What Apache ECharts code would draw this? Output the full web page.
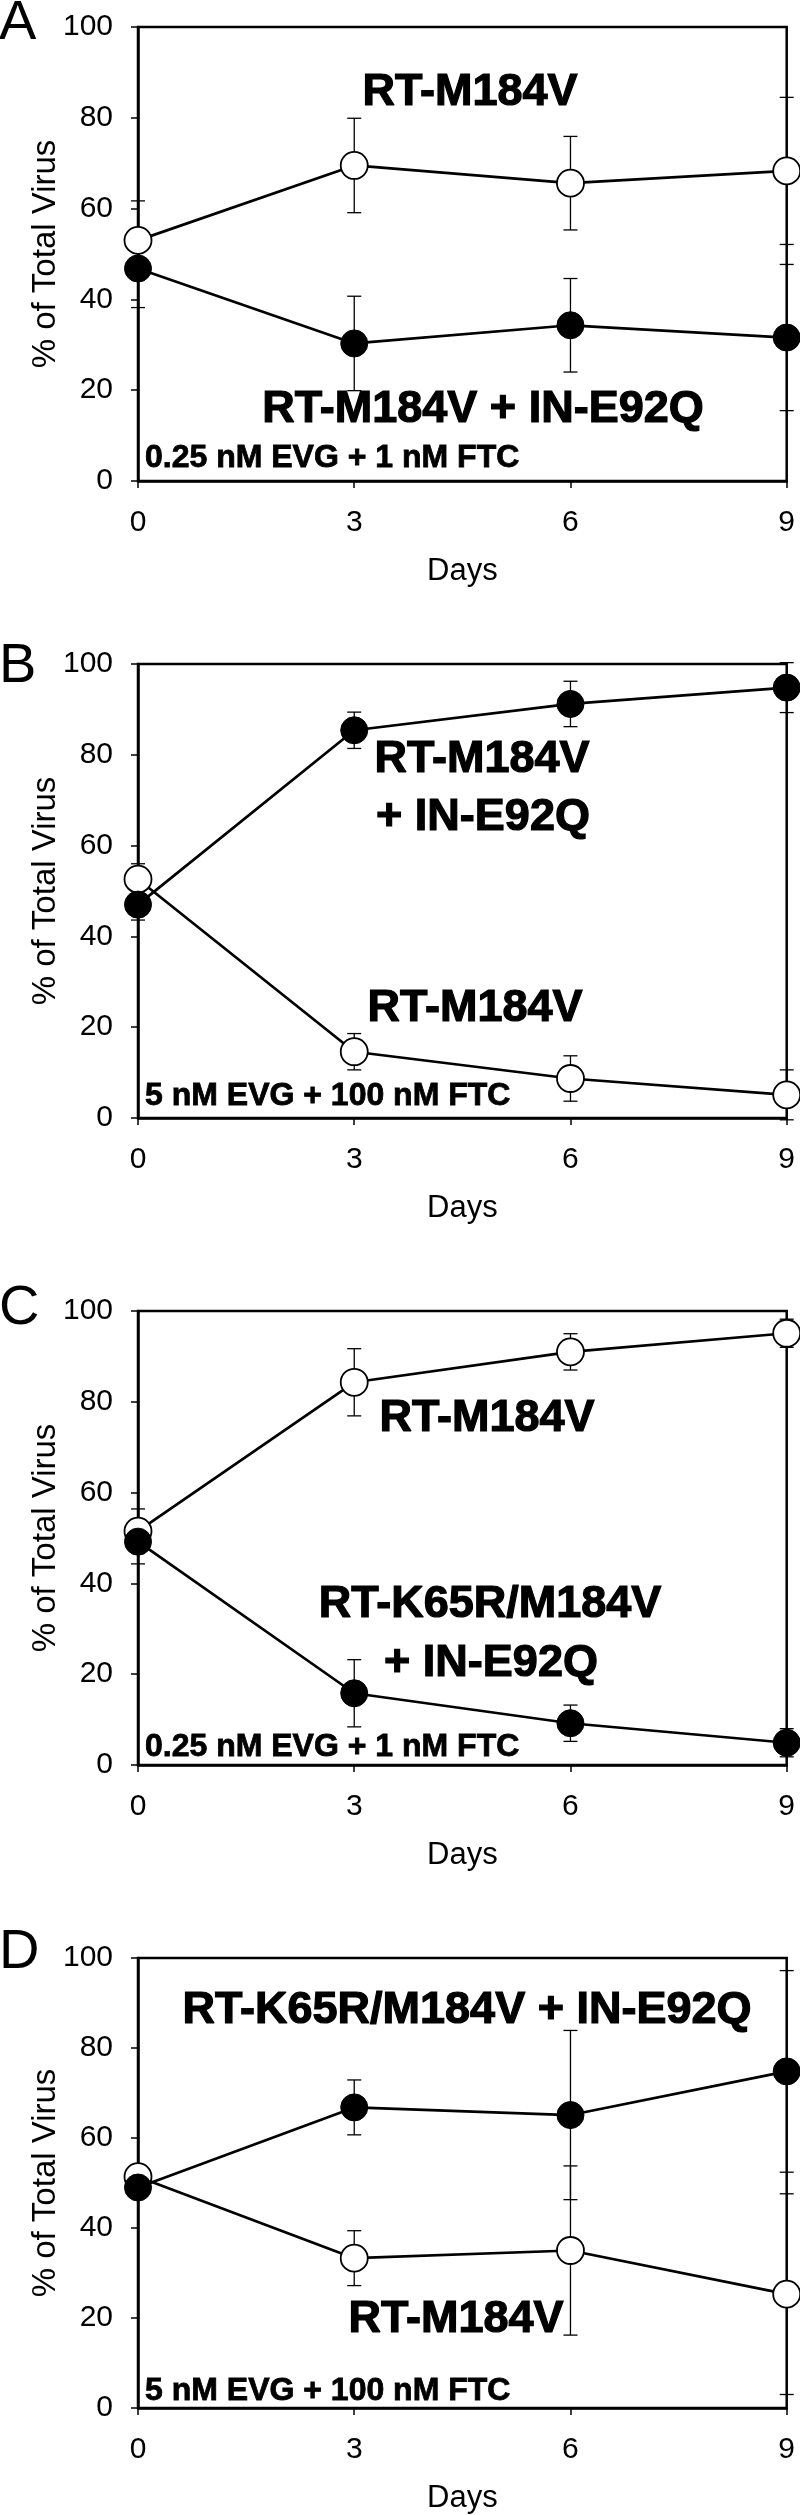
<!DOCTYPE html>
<html><head><meta charset="utf-8">
<script src="https://cdn.jsdelivr.net/npm/echarts@6/dist/echarts.min.js"></script>
<style>html,body{margin:0;padding:0;background:#fff}#c{width:800px;height:2515px}</style>
</head><body><div id="c"></div>
<script>
// ---- data ----
const days = [0, 3, 6, 9];
const yTickValues = [0, 20, 40, 60, 80, 100];
const panelLetters = ['A', 'B', 'C', 'D'];

const aOpen = [53.0, 69.5, 65.6, 68.3];
const aOpenErr = [8.7, 10.4, 10.3, 16.2];
const aFilled = [46.8, 30.3, 34.3, 31.6];
const aFilledErr = [8.6, 10.4, 10.3, 16.1];

const bOpen = [52.6, 14.6, 8.7, 5.1];
const bOpenErr = [3.4, 4.0, 5.0, 5.5];
const bFilled = [47.0, 85.4, 91.2, 94.8];
const bFilledErr = [3.4, 4.0, 5.0, 5.5];

const cOpen = [51.5, 84.3, 91.0, 95.1];
const cOpenErr = [4.9, 7.4, 4.0, 3.1];
const cFilled = [49.2, 15.8, 9.2, 4.9];
const cFilledErr = [4.9, 7.4, 4.0, 3.1];

const dOpen = [51.4, 33.3, 35.0, 25.3];
const dOpenErr = [1.5, 6.1, 18.8, 22.3];
const dFilled = [49.0, 66.8, 65.1, 74.8];
const dFilledErr = [1.5, 6.1, 18.8, 22.4];

const conditions = ['0.25 nM EVG + 1 nM FTC', '5 nM EVG + 100 nM FTC', '0.25 nM EVG + 1 nM FTC', '5 nM EVG + 100 nM FTC'];

const panels = [
  {open: aOpen, openErr: aOpenErr, filled: aFilled, filledErr: aFilledErr},
  {open: bOpen, openErr: bOpenErr, filled: bFilled, filledErr: bFilledErr},
  {open: cOpen, openErr: cOpenErr, filled: cFilled, filledErr: cFilledErr},
  {open: dOpen, openErr: dOpenErr, filled: dFilled, filledErr: dFilledErr}
];

// ---- layout ----
const gridTops = [27, 664, 1311, 1958];
const gridLeft = 138, gridW = 648.7, gridH = 454;
const FONT = '"Liberation Sans", Arial, Helvetica, sans-serif';

// annotation labels: [text, centerX, offsetY from grid top]
const labels = [
  [['RT-M184V', 470, 66], ['RT-M184V + IN-E92Q', 483, 383]],
  [['RT-M184V', 482, 96], ['+ IN-E92Q', 483, 154], ['RT-M184V', 475, 345]],
  [['RT-M184V', 487, 108], ['RT-K65R/M184V', 490, 294], ['+ IN-E92Q', 491, 353]],
  [['RT-K65R/M184V + IN-E92Q', 467, 53], ['RT-M184V', 456, 362]]
];
const letterOffsets = [-3, 2.5, -2, -5];
const condOffsets = [431, 432, 436, 433];

function errRender(params, api) {
  const x = api.value(0), y = api.value(1), e = api.value(2);
  if (!e) return;
  const top = api.coord([x, y + e]);
  const bot = api.coord([x, y - e]);
  const hw = 7;
  const style = {stroke: '#000', lineWidth: 1.3};
  return {type: 'group', children: [
    {type: 'line', shape: {x1: top[0], y1: top[1], x2: bot[0], y2: bot[1]}, style: style},
    {type: 'line', shape: {x1: top[0] - hw, y1: top[1], x2: top[0] + hw, y2: top[1]}, style: style},
    {type: 'line', shape: {x1: bot[0] - hw, y1: bot[1], x2: bot[0] + hw, y2: bot[1]}, style: style}
  ]};
}

const grid = [], xAxis = [], yAxis = [], series = [], graphic = [];
panels.forEach((p, i) => {
  grid.push({left: gridLeft, top: gridTops[i], width: gridW, height: gridH,
    show: true, borderColor: '#000', borderWidth: 2.5, backgroundColor: 'transparent'});
  xAxis.push({type: 'value', gridIndex: i, min: 0, max: 9, interval: 3,
    name: 'Days', nameLocation: 'middle', nameGap: 75,
    nameTextStyle: {fontFamily: FONT, fontSize: 31, color: '#000'},
    axisLine: {show: true, lineStyle: {color: '#000', width: 2.5}},
    axisTick: {show: true, inside: false, length: 7, lineStyle: {color: '#000', width: 1.5}},
    axisLabel: {fontFamily: FONT, fontSize: 30, color: '#000', margin: 27},
    splitLine: {show: false}});
  yAxis.push({type: 'value', gridIndex: i, min: 0, max: 100, interval: 20,
    name: '% of Total Virus', nameLocation: 'middle', nameGap: 76, nameMoveOverlap: false,
    nameTextStyle: {fontFamily: FONT, fontSize: 33, color: '#000'},
    axisLine: {show: true, lineStyle: {color: '#000', width: 2.5}},
    axisTick: {show: true, inside: false, length: 7, lineStyle: {color: '#000', width: 1.5}},
    axisLabel: {fontFamily: FONT, fontSize: 30, color: '#000', margin: 25,
      formatter: v => yTickValues.includes(v) ? String(v) : ''},
    splitLine: {show: false}});

  const mk = (vals, errs) => days.map((d, k) => [d, vals[k], errs[k]]);
  series.push({type: 'custom', xAxisIndex: i, yAxisIndex: i, renderItem: errRender,
    data: mk(p.open, p.openErr), z: 1, silent: true});
  series.push({type: 'custom', xAxisIndex: i, yAxisIndex: i, renderItem: errRender,
    data: mk(p.filled, p.filledErr), z: 1, silent: true});
  series.push({type: 'line', xAxisIndex: i, yAxisIndex: i, clip: false, z: 3,
    data: days.map((d, k) => [d, p.open[k]]),
    symbol: 'circle', symbolSize: 27, showAllSymbol: true,
    lineStyle: {color: '#000', width: 2.7},
    itemStyle: {color: '#fff', borderColor: '#000', borderWidth: 1.8}});
  series.push({type: 'line', xAxisIndex: i, yAxisIndex: i, clip: false, z: 4,
    data: days.map((d, k) => [d, p.filled[k]]),
    symbol: 'circle', symbolSize: 27, showAllSymbol: true,
    lineStyle: {color: '#000', width: 2.7},
    itemStyle: {color: '#000', borderColor: '#000', borderWidth: 1}});

  const T = gridTops[i];
  graphic.push({type: 'text', left: -1, top: T + letterOffsets[i] - 28, z: 10,
    style: {text: panelLetters[i], font: '56px ' + FONT, fill: '#000'}});
  labels[i].forEach(l => {
    graphic.push({type: 'text', x: l[1], y: T + l[2], z: 10,
      style: {text: l[0], font: 'bold 45px ' + FONT, fill: '#000', stroke: '#000', lineWidth: 1.2,
        textAlign: 'center', textVerticalAlign: 'middle'}});
  });
  graphic.push({type: 'text', x: 145, y: T + condOffsets[i], z: 10,
    style: {text: conditions[i], font: 'bold 32px ' + FONT, fill: '#000', stroke: '#000', lineWidth: 0.8,
      textAlign: 'left', textVerticalAlign: 'middle'}});
});

const chart = echarts.init(document.getElementById('c'), null, {renderer: 'canvas'});
chart.setOption({animation: false, backgroundColor: '#fff', grid, xAxis, yAxis, series, graphic});
</script></body></html>
